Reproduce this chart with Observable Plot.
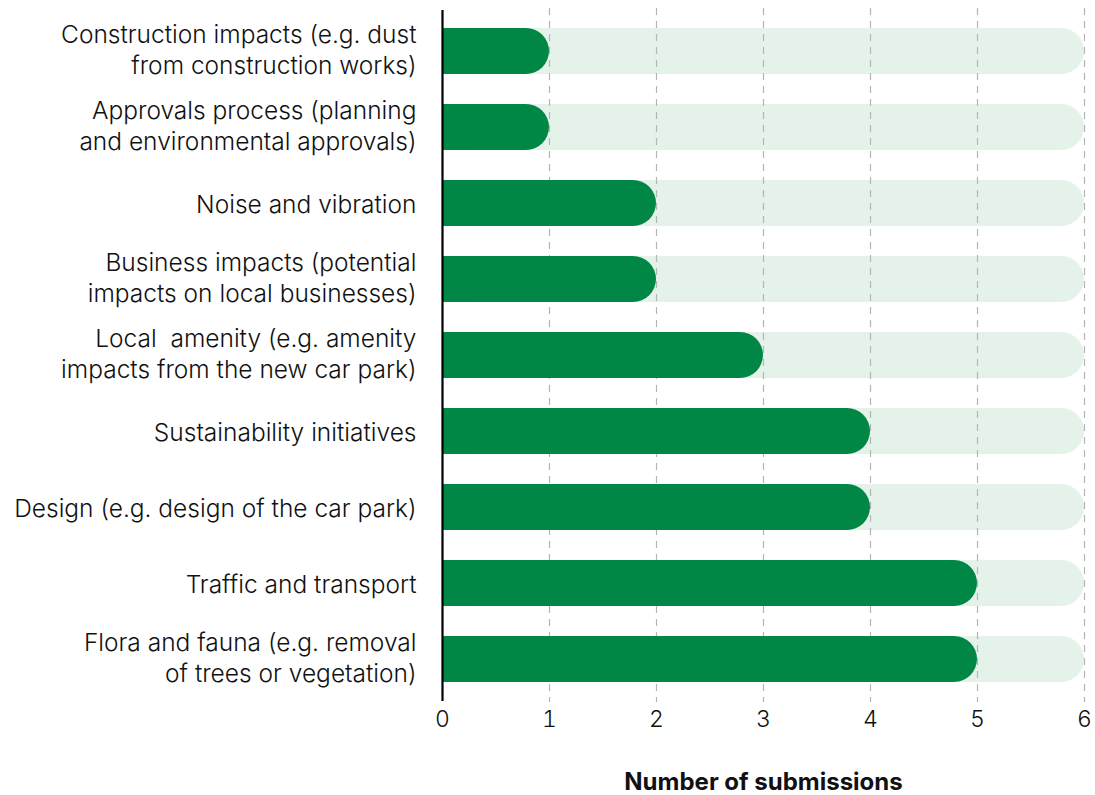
<!DOCTYPE html>
<html>
<head>
<meta charset="utf-8">
<script src="https://cdn.jsdelivr.net/npm/d3@7"></script>
<script src="https://cdn.jsdelivr.net/npm/@observablehq/plot@0.6"></script>
<style>
  html, body { margin: 0; padding: 0; background: #fff; }
  #chart svg { font-family: Inter, "Open Sans", sans-serif; }
  #chart g[aria-label="x-axis label"] text { font-weight: 700; font-size: 24px; }
</style>
</head>
<body>
<div id="chart"></div>
<script>
const categories = [
  "Construction impacts (e.g. dust\nfrom construction works)",
  "Approvals process (planning\nand environmental approvals)",
  "Noise and vibration",
  "Business impacts (potential\nimpacts on local businesses)",
  "Local  amenity (e.g. amenity\nimpacts from the new car park)",
  "Sustainability initiatives",
  "Design (e.g. design of the car park)",
  "Traffic and transport",
  "Flora and fauna (e.g. removal\nof trees or vegetation)"
];
const submissions = [1, 1, 2, 2, 3, 4, 4, 5, 5];
const maxValue = 6;
const xTicks = [0, 1, 2, 3, 4, 5, 6];
const gridTicks = [1, 2, 3, 4, 5, 6];

const data = categories.map((c, i) => ({category: c, value: submissions[i], max: maxValue}));
const multiLine = categories.filter(c => c.includes("\n"));
const singleLine = categories.filter(c => !c.includes("\n"));

const dark = "#008645";
const light = "#e4f2ea";
const r = 23;
const labelStyle = {tickSize: 0, tickPadding: 26, fontSize: 24.5, lineHeight: 1.25, label: null, textAnchor: "end", fontWeight: 300};

const chart = Plot.plot({
  width: 1095,
  height: 795,
  marginLeft: 442,
  marginRight: 11,
  marginTop: 10,
  marginBottom: 95,
  style: {fontSize: "24px", color: "#111", background: "#fff"},
  x: {domain: [0, 6], ticks: xTicks},
  y: {domain: categories, paddingInner: 0.39, paddingOuter: 0.2},
  marks: [
    // light background bars (square left, rounded right)
    Plot.barX(data, {y: "category", x1: 0, x2: "max", fill: light, insetRight: r}),
    Plot.barX(data, {y: "category", x1: 0, x2: "max", fill: light, rx: r}),
    // dashed grid
    Plot.gridX(gridTicks, {stroke: "#b5b5b5", strokeOpacity: 1, strokeWidth: 1.2, strokeDasharray: "7,6", insetTop: -2, insetBottom: -2}),
    // dark value bars
    Plot.barX(data, {y: "category", x1: 0, x2: "value", fill: dark, insetRight: r}),
    Plot.barX(data, {y: "category", x1: 0, x2: "value", fill: dark, rx: r}),
    // axis line
    Plot.ruleX([0], {stroke: "#000", strokeWidth: 2.2, insetBottom: -1}),
    Plot.axisY(singleLine, labelStyle),
    Plot.axisY(multiLine, {...labelStyle, dy: -3}),
    Plot.axisX(xTicks, {tickSize: 0, tickPadding: 10, fontSize: 23, fontWeight: 300, label: "Number of submissions", labelAnchor: "center", labelArrow: "none", labelOffset: 89})
  ]
});
document.getElementById("chart").appendChild(chart);
</script>
</body>
</html>
